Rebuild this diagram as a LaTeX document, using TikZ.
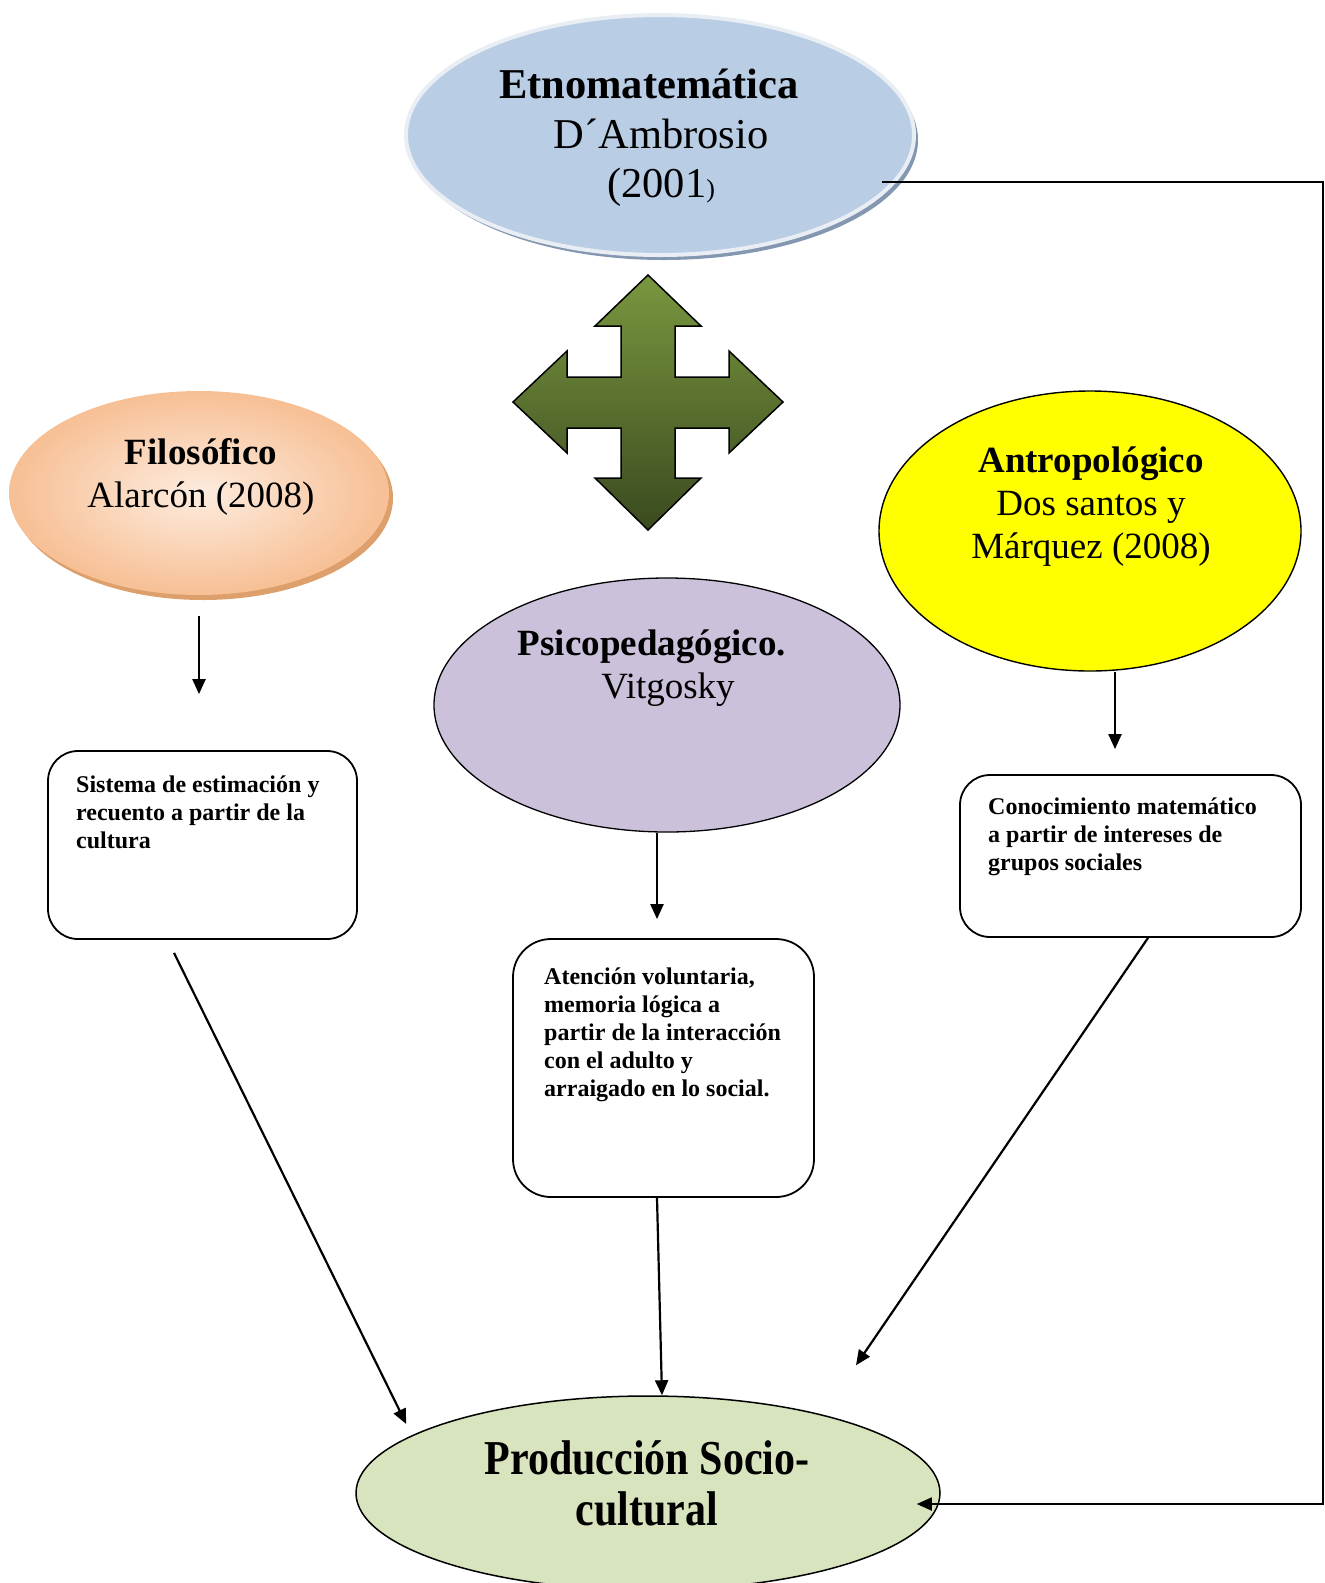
\documentclass[tikz,border=0pt]{standalone}
\usepackage{fontspec}
\setmainfont{Liberation Serif}
\usetikzlibrary{shapes.geometric,arrows.meta}
\definecolor{etnofill}{HTML}{B9CDE5}
\definecolor{etnorim}{HTML}{E9EEF5}
\definecolor{etnoshadow}{HTML}{8397B1}
\definecolor{filoin}{HTML}{FDECDF}
\definecolor{filoout}{HTML}{F7BF94}
\definecolor{filoshadow}{HTML}{DDA06C}
\definecolor{psicofill}{HTML}{CCC1DA}
\definecolor{prodfill}{HTML}{D7E4BD}
\definecolor{crosstop}{HTML}{7A973F}
\definecolor{crossbot}{HTML}{3A4A1F}
\definecolor{antrofill}{HTML}{FFFF00}
\begin{document}
\begin{tikzpicture}[x=1pt,y=-1pt,
  oval/.style={ellipse, inner sep=0pt},
  conn/.style={line width=2.2pt, -{Triangle[length=15pt,width=13pt]}},
  card/.style={rectangle, draw, line width=1.8pt, rounded corners=30pt, inner sep=0pt},
  note/.style={font=\fontsize{24}{28}\selectfont\bfseries, align=left, anchor=north west, inner sep=0pt},
  head/.style={font=\fontsize{37}{43}\selectfont, align=center, inner sep=0pt}]
\useasboundingbox (0,0) rectangle (1325,1583);

% top oval: Etnomatematica
\node[oval, fill=etnoshadow, minimum width=508pt, minimum height=240pt] (etnoshade) at (664,140) {};
\node[oval, fill=etnofill, draw=etnorim, line width=4pt, minimum width=508pt, minimum height=240pt] (etno) at (660,135) {};
\node[font=\fontsize{42.5}{49.5}\selectfont, align=center, inner sep=0pt] (etnotxt) at (661,138)
  {\textbf{Etnomatemática}\hspace*{24pt}\\D´Ambrosio\\(2001{\fontsize{26}{26}\selectfont )}};

% four-way arrow
\path[draw=black, line width=1.5pt, top color=crosstop, bottom color=crossbot]
  (648,275) -- (701,326) -- (675,326) -- (675,377) -- (729,377) -- (729,351)
  -- (783,402) -- (729,453) -- (729,428) -- (675,428) -- (675,478) -- (701,478)
  -- (648,530) -- (595,478) -- (621,478) -- (621,428) -- (567,428) -- (567,453)
  -- (513,402) -- (567,351) -- (567,377) -- (621,377) -- (621,326) -- (595,326) -- cycle;

% Filosofico
\node[oval, fill=filoshadow, minimum width=380pt, minimum height=204pt] (filoshade) at (203,498) {};
\node[oval, inner color=filoin, outer color=filoout, minimum width=380pt, minimum height=204pt] (filo) at (199,493) {};
\node[head] (filotxt) at (201,477) {\textbf{Filosófico}\\Alarcón (2008)};

% Psicopedagogico
\node[oval, fill=psicofill, draw, line width=1.3pt, minimum width=466pt, minimum height=254pt] (psico) at (667,705) {};
\node[head] (psicotxt) at (668,668.5) {\textbf{Psicopedagógico.}\hspace*{32pt}\\Vitgosky};

% Antropologico
\node[oval, fill=antrofill, draw, line width=1.4pt, minimum width=422pt, minimum height=280pt] (antro) at (1090,531) {};
\node[head] (antrotxt) at (1091,506.5) {\textbf{Antropológico}\\Dos santos y\\Márquez (2008)};

% text cards
\node[card, minimum width=309pt, minimum height=188pt] (box1) at (202.5,845) {};
\node[note] (box1txt) at (76,776) {Sistema de estimación y\\recuento a partir de la\\cultura};
\node[card, rounded corners=38pt, minimum width=301pt, minimum height=258pt] (box2) at (663.5,1068) {};
\node[note] (box2txt) at (544,968) {Atención voluntaria,\\memoria lógica a\\partir de la interacción\\con el adulto y\\arraigado en lo social.};
\node[card, minimum width=341pt, minimum height=162pt] (box3) at (1130.5,856) {};
\node[note] (box3txt) at (988,798) {Conocimiento matemático\\a partir de intereses de\\grupos sociales};

% Produccion Socio-cultural
\node[oval, fill=prodfill, draw, line width=1.5pt, minimum width=584pt, minimum height=194pt] (prod) at (648,1493) {};
\node[inner sep=0pt] (prodtxt) at (647,1490)
  {\scalebox{1}[1.16]{\fontsize{42}{44}\selectfont\bfseries\begin{tabular}{@{}c@{}}Producción Socio-\\cultural\end{tabular}}};

% connectors
\draw[conn] ([yshift=-21pt]filo.south) -- ([xshift=-3.5pt,yshift=56pt]box1.north);
\draw[conn] ([xshift=-10pt]psico.south) -- ([xshift=-6.5pt,yshift=19pt]box2.north);
\draw[conn] ([xshift=25pt]antro.south) -- ([xshift=-15.5pt,yshift=25pt]box3.north);
\draw[conn] ([xshift=-28.5pt,yshift=-13pt]box1.south) -- ([xshift=51pt,yshift=69pt]prod.west);
\draw[conn] ([xshift=-6.5pt]box2.south) -- ([xshift=14pt]prod.north);
\draw[conn] ([xshift=17.5pt]box3.south) -- ([xshift=208pt,yshift=30pt]prod.north);
\draw[line width=1.8pt, -{Triangle[length=15pt,width=13pt]}] ([xshift=-34pt,yshift=-47pt]etno.east) -- ++(441pt,0pt) |- ([xshift=-24pt,yshift=-11pt]prod.east);
\end{tikzpicture}
\end{document}
